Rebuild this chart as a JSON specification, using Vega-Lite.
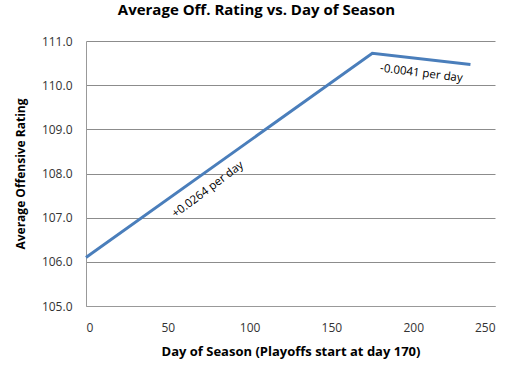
{
  "$schema": "https://vega.github.io/schema/vega-lite/v6.json",
  "width": 409,
  "height": 265,
  "autosize": {"type": "none"},
  "padding": {"left": 86, "top": 41, "right": 17, "bottom": 71},
  "background": "white",
  "config": {
    "view": {"stroke": null},
    "font": "Open Sans"
  },
  "title": {
    "text": "Average Off. Rating vs. Day of Season",
    "fontSize": 15,
    "fontWeight": "bold",
    "font": "Open Sans",
    "color": "#000",
    "anchor": "middle",
    "dx": -34,
    "offset": 17
  },
  "datasets": {
    "line": [
      {"day": 0, "rating": 106.1},
      {"day": 175, "rating": 110.72},
      {"day": 235, "rating": 110.47}
    ],
    "notes": [
      {"day": 74.6, "rating": 107.63, "label": "+0.0264 per day", "angle": -37},
      {"day": 205, "rating": 110.26, "label": "-0.0041 per day", "angle": 7}
    ]
  },
  "layer": [
    {
      "data": {"name": "line"},
      "mark": {"type": "line", "color": "#4a7ebb", "strokeWidth": 3},
      "encoding": {
        "x": {
          "field": "day", "type": "quantitative",
          "scale": {"domain": [0, 250], "nice": false},
          "axis": {
            "title": "Day of Season (Playoffs start at day 170)",
            "values": [0, 50, 100, 150, 200, 250],
            "grid": false, "ticks": false,
            "domainColor": "#999", "domainWidth": 1,
            "labelFontSize": 12, "labelColor": "#333", "labelPadding": 16,
            "labelFont": "Open Sans",
            "titleFontSize": 13, "titleFontWeight": "bold", "titleColor": "#000",
            "titleFont": "Open Sans", "titlePadding": 12
          }
        },
        "y": {
          "field": "rating", "type": "quantitative",
          "scale": {"domain": [105, 111], "nice": false, "zero": false},
          "axis": {
            "title": "Average Offensive Rating",
            "values": [105, 106, 107, 108, 109, 110, 111],
            "format": ".1f",
            "grid": true, "gridColor": "#8c8c8c", "gridWidth": 1,
            "ticks": false,
            "domainColor": "#999", "domainWidth": 1,
            "labelFontSize": 12, "labelColor": "#333", "labelPadding": 14,
            "labelFont": "Open Sans",
            "titleFontSize": 12, "titleFontWeight": "bold", "titleColor": "#000",
            "titleFont": "Open Sans", "titlePadding": 14
          }
        }
      }
    },
    {
      "data": {"name": "notes"},
      "mark": {"type": "text", "fontSize": 11.5, "color": "#000", "font": "Open Sans"},
      "encoding": {
        "x": {"field": "day", "type": "quantitative"},
        "y": {"field": "rating", "type": "quantitative"},
        "text": {"field": "label"},
        "angle": {"field": "angle", "type": "quantitative", "scale": null}
      }
    }
  ]
}
